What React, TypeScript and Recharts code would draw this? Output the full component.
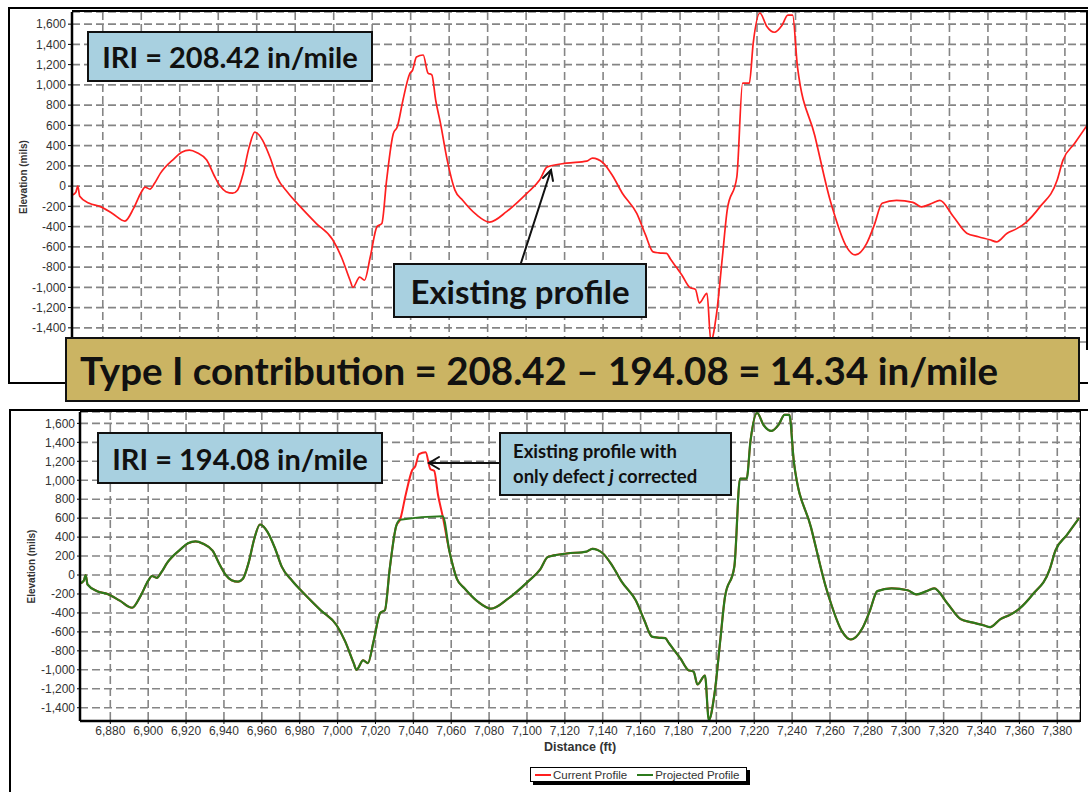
import React from "react";
import { LineChart, Line, XAxis, YAxis, CartesianGrid, Legend } from "recharts";

// Profile (distance in ft, elevation in mils)
const distanceFt = [
  6864, 6866, 6867, 6868, 6873, 6878.5, 6885, 6891.5, 6896, 6900, 6902, 6904.5,
  6907, 6910, 6917, 6921, 6925, 6929, 6934, 6938, 6941, 6944, 6947.5, 6950,
  6953, 6956, 6959, 6961, 6963, 6967, 6970.5, 6976, 6982.5, 6991, 6999.5, 7004,
  7008.5, 7010, 7013.5, 7016, 7019, 7022.5, 7025, 7027.5, 7031, 7033, 7036,
  7039.5, 7041, 7043, 7046.5, 7049, 7051, 7053, 7055.5, 7059, 7063, 7067, 7074,
  7081, 7090, 7100.5, 7107, 7111, 7121, 7131.5, 7134.5, 7140, 7145, 7150,
  7157.5, 7162, 7166, 7169, 7173, 7175, 7178, 7181, 7185, 7188, 7190, 7194,
  7196, 7199, 7202, 7204.5, 7209.5, 7212.5, 7216, 7218, 7221.5, 7225, 7229,
  7233, 7236, 7238.5, 7241, 7250, 7258, 7259.5, 7266.5, 7271, 7277, 7281,
  7285, 7292.5, 7301, 7305.5, 7311, 7315, 7322, 7329, 7335, 7341, 7344.5, 7350,
  7355, 7360, 7367, 7376, 7379, 7385, 7391.5,
];

const currentProfile = [
  -90, -60, 0, -100, -170, -200, -270, -345, -220, -60, -10, -30,
  30, 128, 270, 335, 355, 330, 257, 100, 0, -55, -70, -40,
  128, 380, 533, 510, 455, 280, 89, -60, -200, -370, -530, -700,
  -930, -1000, -900, -930, -700, -400, -370, 60, 520, 583, 850,
  1110, 1146, 1275, 1295, 1117, 1100, 850, 620, 257, -40, -140, -280,
  -355, -250, -70, 60, 190, 227, 247, 277, 230, 100, -70,
  -270, -480, -650, -660, -665, -720, -800, -880, -1000, -1020, -1155, -1060,
  -1530, -1255, -700, -237, 90, 1017, 1017, 1410, 1710, 1580, 1520,
  1590, 1690, 1690, 1180, 500, -140, -237, -600, -680, -565, -380,
  -170, -140, -160, -205, -170, -140, -300, -465, -500, -530, -550, -465,
  -420, -355, -205, 60, 257, 420, 600,
];

// Same profile with defect j removed (gap is bridged by the corrected segment)
const projectedProfile = [
  -90, -60, 0, -100, -170, -200, -270, -345, -220, -60, -10, -30,
  30, 128, 270, 335, 355, 330, 257, 100, 0, -55, -70, -40,
  128, 380, 533, 510, 455, 280, 89, -60, -200, -370, -530, -700,
  -930, -1000, -900, -930, -700, -400, -370, 60, 520, 583, null,
  null, null, null, null, null, null, null, 620, 257, -40, -140, -280,
  -355, -250, -70, 60, 190, 227, 247, 277, 230, 100, -70,
  -270, -480, -650, -660, -665, -720, -800, -880, -1000, -1020, -1155, -1060,
  -1530, -1255, -700, -237, 90, 1017, 1017, 1410, 1710, 1580, 1520,
  1590, 1690, 1690, 1180, 500, -140, -237, -600, -680, -565, -380,
  -170, -140, -160, -205, -170, -140, -300, -465, -500, -530, -550, -465,
  -420, -355, -205, 60, 257, 420, 600,
];

const distanceTicks = [
  6880, 6900, 6920, 6940, 6960, 6980, 7000, 7020, 7040, 7060, 7080, 7100,
  7120, 7140, 7160, 7180, 7200, 7220, 7240, 7260, 7280, 7300, 7320, 7340,
  7360, 7380,
];
const elevationTicks = [
  -1400, -1200, -1000, -800, -600, -400, -200, 0, 200, 400, 600, 800, 1000,
  1200, 1400, 1600,
];

const chartData = distanceFt.map((d, i) => ({
  distance: d,
  current: currentProfile[i],
  projected: projectedProfile[i],
}));

const RED = "#ff1f1f";
const GREEN = "#2c7a1c";
const BOX_BLUE = "#a8d0e0";
const GOLD = "#cbb463";
const GRID = "#858585";
const calloutFont = "Lato, 'Open Sans', sans-serif";
const axisFont = "'Liberation Sans', Arial, sans-serif";

const fmt = (v: number) => v.toLocaleString("en-US");

function ElevationLabel({ viewBox, cx }: any) {
  const y = viewBox.y + viewBox.height / 2;
  return (
    <text
      x={cx}
      y={y}
      transform={`rotate(-90 ${cx} ${y})`}
      textAnchor="middle"
      dominantBaseline="central"
      fontFamily={axisFont}
      fontSize={10}
      fontWeight="bold"
      fill="#333"
    >
      Elevation (mils)
    </text>
  );
}

function ProfileLegend({ payload }: any) {
  return (
    <div
      style={{
        display: "flex",
        alignItems: "center",
        gap: 10,
        background: "#fff",
        border: "1px solid #000",
        boxShadow: "3px 3px 0 #000",
        padding: "0 6px 0 4px",
        height: 13,
        fontFamily: axisFont,
        fontSize: 11.5,
        color: "#333",
        whiteSpace: "nowrap",
      }}
    >
      {(payload || []).map((p: any) => (
        <span key={p.value} style={{ display: "flex", alignItems: "center" }}>
          <span
            style={{
              display: "inline-block",
              width: 16,
              height: 2,
              background: p.color,
              marginRight: 2,
            }}
          />
          {p.value}
        </span>
      ))}
    </div>
  );
}

const tickStyle = { fontSize: 12, fill: "#333", fontFamily: axisFont };

function Box({ left, top, width, height, bg, children, style }: any) {
  return (
    <div
      style={{
        position: "absolute",
        left,
        top,
        width,
        height,
        boxSizing: "border-box",
        background: bg,
        border: "2px solid #111",
        display: "flex",
        alignItems: "center",
        fontFamily: calloutFont,
        fontWeight: 700,
        color: "#111",
        ...style,
      }}
    >
      {children}
    </div>
  );
}

export default function App() {
  return (
    <div
      style={{
        position: "absolute",
        left: 0,
        top: 0,
        width: 1088,
        height: 792,
        overflow: "hidden",
        background: "#fff",
      }}
    >
      {/* top chart: existing profile */}
      <div style={{ position: "absolute", left: 0, top: 0 }}>
        <LineChart
          width={1090}
          height={350}
          data={chartData}
          margin={{ top: 12, right: 2, bottom: 8, left: 12 }}
        >
          <CartesianGrid stroke={GRID} strokeDasharray="8 4" strokeWidth={1.6} />
          <XAxis
            dataKey="distance"
            type="number"
            domain={[6864, 7392]}
            ticks={distanceTicks}
            allowDataOverflow
            hide
          />
          <YAxis
            width={60}
            type="number"
            domain={[-1540, 1720]}
            ticks={elevationTicks}
            interval={0}
            allowDataOverflow
            tickFormatter={fmt}
            tick={tickStyle}
            tickSize={4}
            tickLine={{ stroke: "#000" }}
            axisLine={{ stroke: "#000", strokeWidth: 2.5 }}
            label={<ElevationLabel cx={23} />}
          />
          <Line
            type="monotone"
            dataKey="current"
            name="Current Profile"
            stroke={RED}
            strokeWidth={1.7}
            dot={false}
            isAnimationActive={false}
          />
        </LineChart>
      </div>

      {/* bottom chart: current vs projected */}
      <div style={{ position: "absolute", left: 0, top: 400 }}>
        <LineChart
          width={1088}
          height={392}
          data={chartData}
          margin={{ top: 12, right: 8, bottom: 26, left: 20 }}
        >
          <CartesianGrid stroke={GRID} strokeDasharray="8 4" strokeWidth={1.6} />
          <XAxis
            dataKey="distance"
            type="number"
            domain={[6864, 7392]}
            ticks={distanceTicks}
            interval={0}
            allowDataOverflow
            height={30}
            tickFormatter={fmt}
            tick={tickStyle}
            tickSize={3}
            tickLine={{ stroke: "#000" }}
            axisLine={{ stroke: "#000", strokeWidth: 2.5 }}
            label={{
              value: "Distance (ft)",
              position: "insideBottom",
              offset: 0,
              style: { fontSize: 12.5, fontWeight: "bold", fill: "#333", fontFamily: axisFont },
            }}
          />
          <YAxis
            width={60}
            type="number"
            domain={[-1540, 1720]}
            ticks={elevationTicks}
            interval={0}
            allowDataOverflow
            tickFormatter={fmt}
            tick={tickStyle}
            tickSize={3}
            tickLine={{ stroke: "#000" }}
            axisLine={{ stroke: "#000", strokeWidth: 2.5 }}
            label={<ElevationLabel cx={31} />}
          />
          <Legend
            layout="vertical"
            align="center"
            verticalAlign="bottom"
            wrapperStyle={{ left: 530, top: 367, width: "auto" }}
            content={<ProfileLegend />}
          />
          <Line
            type="monotone"
            dataKey="current"
            name="Current Profile"
            stroke={RED}
            strokeWidth={2}
            dot={false}
            isAnimationActive={false}
          />
          <Line
            type="monotone"
            dataKey="projected"
            name="Projected Profile"
            stroke={GREEN}
            strokeWidth={2.2}
            dot={false}
            connectNulls
            isAnimationActive={false}
          />
        </LineChart>
      </div>

      {/* frames */}
      <div style={{ position: "absolute", left: 8, top: 7, width: 1100, height: 377, border: "2px solid #000", boxSizing: "border-box" }} />
      <div style={{ position: "absolute", left: 72, top: 10, width: 1100, height: 2, background: "#000" }} />
      <div style={{ position: "absolute", left: 1086, top: 10, width: 2, height: 340, background: "#000" }} />
      <div style={{ position: "absolute", left: 9, top: 409, width: 1100, height: 400, border: "2px solid #000", boxSizing: "border-box" }} />
      <div style={{ position: "absolute", left: 80, top: 411, width: 1001, height: 311, border: "1.5px solid #000", boxSizing: "border-box" }} />

      {/* callouts */}
      <Box left={87} top={31} width={286} height={51} bg={BOX_BLUE} style={{ justifyContent: "center", fontSize: 29 }}>
        IRI = 208.42 in/mile
      </Box>
      <Box left={393} top={263} width={254} height={55} bg={BOX_BLUE} style={{ justifyContent: "center", fontSize: 33 }}>
        Existing profile
      </Box>
      <Box left={65} top={337} width={1015} height={65} bg={GOLD} style={{ paddingLeft: 13, fontSize: 38.5 }}>
        Type I contribution = 208.42 – 194.08 = 14.34 in/mile
      </Box>
      <Box left={97} top={432} width={286} height={52} bg={BOX_BLUE} style={{ justifyContent: "center", fontSize: 29 }}>
        IRI = 194.08 in/mile
      </Box>
      <Box left={499} top={432} width={233} height={64} bg={BOX_BLUE} style={{ paddingLeft: 12, fontSize: 18.5, lineHeight: "25px" }}>
        <div>
          Existing profile with
          <br />
          only defect <i>j</i> corrected
        </div>
      </Box>

      <svg width={1088} height={792} style={{ position: "absolute", left: 0, top: 0, pointerEvents: "none" }}>
        <g stroke="#111" strokeWidth={2} fill="none" strokeLinecap="round">
          <line x1={521} y1={263} x2={551} y2={170} />
          <polyline points="543,178 551,170 553,181" />
          <line x1={499} y1={463} x2={429} y2={463} />
          <polyline points="439,457 429,463 439,469" />
        </g>
      </svg>
    </div>
  );
}
